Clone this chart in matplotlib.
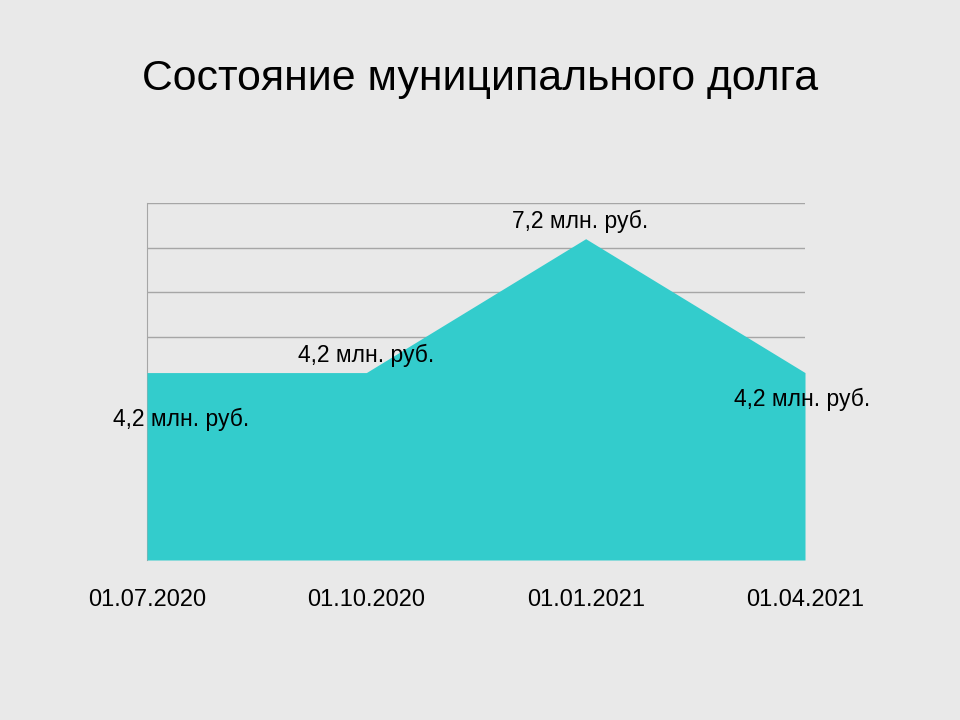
import matplotlib.pyplot as plt

# data
dates = ['01.07.2020', '01.10.2020', '01.01.2021', '01.04.2021']
debt = [4.2, 4.2, 7.2, 4.2]
labels = ['4,2 млн. руб.', '4,2 млн. руб.', '7,2 млн. руб.', '4,2 млн. руб.']
# where each data label sits relative to its point (pixels)
label_offsets = [(34, -47), (0, 17), (-6, 17), (-3, -27)]

plt.rcParams['font.family'] = ['Liberation Sans', 'DejaVu Sans']

fig = plt.figure(figsize=(9.6, 7.2), dpi=100)
fig.patch.set_facecolor('#e9e9e9')
ax = fig.add_axes([147/960, 1 - 560/720, (805-147)/960, (560-203)/720])
ax.set_facecolor('none')

x = list(range(len(dates)))
ax.fill_between(x, debt, 0, color='#33CCCC', lw=0, zorder=3)

ax.set_xlim(0, len(dates) - 1)
ax.set_ylim(0, 8)
ax.set_yticks(range(0, 9))
ax.yaxis.grid(True, color='#a6a6a6', lw=1)
ax.tick_params(axis='y', left=False, labelleft=False)
ax.set_xticks(x)
ax.set_xticklabels(dates, fontsize=17)
ax.tick_params(axis='x', length=0, pad=21)
for s in ['top', 'right', 'bottom']:
    ax.spines[s].set_visible(False)
ax.spines['left'].set_color('#a6a6a6')

for xi, yi, lab, off in zip(x, debt, labels, label_offsets):
    ax.annotate(lab, (xi, yi), xytext=off, textcoords='offset pixels',
                ha='center', va='center', fontsize=16.5, zorder=5,
                annotation_clip=False)

fig.text(0.5, 1 - 90/720, 'Состояние муниципального долга', ha='center', va='baseline',
         fontsize=30.8)

plt.savefig('out.png', dpi=100, facecolor=fig.get_facecolor())
